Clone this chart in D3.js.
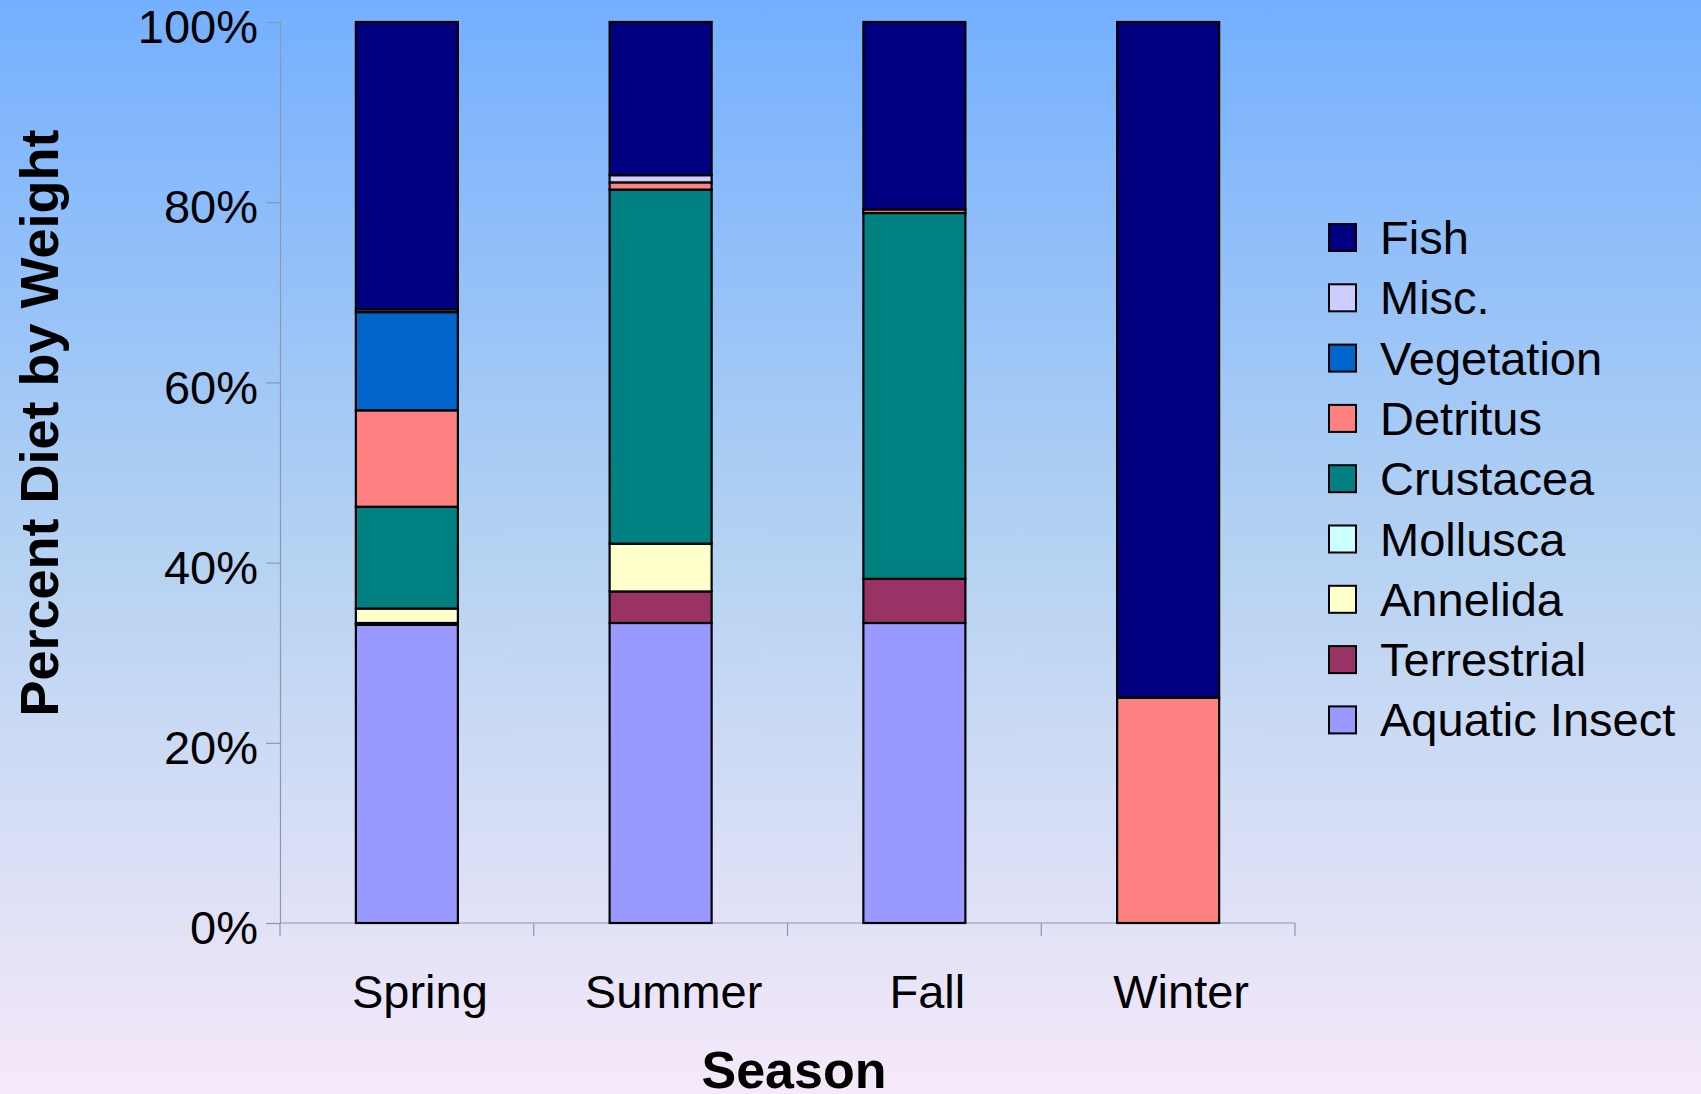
<!DOCTYPE html>
<html>
<head>
<meta charset="utf-8">
<script src="https://cdn.jsdelivr.net/npm/d3@7"></script>
<style>
  body { margin: 0; padding: 0; overflow: hidden; }
  svg { display: block; font-family: "Liberation Sans", Arial, sans-serif; }
</style>
</head>
<body>
<svg id="chart" width="1701" height="1094"></svg>
<script>
// seasons along the x axis
var seasons = ["Spring", "Summer", "Fall", "Winter"];

// diet groups, stacked from bottom to top
var groups = ["Aquatic Insect", "Terrestrial", "Annelida", "Mollusca", "Crustacea",
              "Detritus", "Vegetation", "Misc.", "Fish"];

// percent of diet by weight, one value per season
var aquaticInsect = [33.1, 33.3, 33.3, 0];
var terrestrial   = [0.2, 3.5, 4.9, 0];
var annelida      = [1.6, 5.3, 0, 0];
var mollusca      = [0, 0, 0, 0];
var crustacea     = [11.3, 39.3, 40.6, 0];
var detritus      = [10.7, 0.8, 0.4, 25.0];
var vegetation    = [10.9, 0, 0, 0];
var misc          = [0.3, 0.8, 0, 0];
var fish          = [31.9, 17.0, 20.8, 75.0];

var yTicks = [0, 20, 40, 60, 80, 100];

var colors = {
    "Fish": "#000080",
    "Misc.": "#CCCCFF",
    "Vegetation": "#0066CC",
    "Detritus": "#FF8080",
    "Crustacea": "#008080",
    "Mollusca": "#CCFFFF",
    "Annelida": "#FFFFCC",
    "Terrestrial": "#993366",
    "Aquatic Insect": "#9999FF"
};

var values = [aquaticInsect, terrestrial, annelida, mollusca, crustacea,
              detritus, vegetation, misc, fish];

// build rows for d3.stack
var rows = seasons.map(function (s, i) {
    var r = { season: s };
    groups.forEach(function (g, j) { r[g] = values[j][i]; });
    return r;
});

var svg = d3.select("#chart");

// background gradient
var defs = svg.append("defs");
var grad = defs.append("linearGradient")
    .attr("id", "bg")
    .attr("x1", 0).attr("y1", 0).attr("x2", 0).attr("y2", 1);
grad.append("stop").attr("offset", "0%").attr("stop-color", "#74AFFF");
grad.append("stop").attr("offset", "50%").attr("stop-color", "#B4D2F2");
grad.append("stop").attr("offset", "100%").attr("stop-color", "#F6E9F9");

svg.append("rect")
    .attr("width", 1701).attr("height", 1094)
    .attr("fill", "url(#bg)");

var plotLeft = 280, plotRight = 1295, plotTop = 22, plotBottom = 923;

var x = d3.scaleBand().domain(seasons).range([plotLeft, plotRight]).padding(0);
var y = d3.scaleLinear().domain([0, 100]).range([plotBottom, plotTop]);
var barW = x.bandwidth() * 0.402;

var axisColor = "#8A98B0";

// y axis
var yAxis = svg.append("g")
    .attr("transform", "translate(" + plotLeft + ",0)")
    .call(d3.axisLeft(y).tickValues(yTicks).tickSize(14).tickPadding(8)
          .tickFormat(function (d) { return d + "%"; }));
yAxis.select(".domain").attr("stroke", axisColor).attr("stroke-width", 1.2);
yAxis.selectAll(".tick line").attr("stroke", axisColor).attr("stroke-width", 1.2);
yAxis.selectAll(".tick text")
    .attr("font-size", 47)
    .attr("fill", "#000")
    .attr("x", -22)
    .attr("dy", "0.44em")
    .attr("font-family", "Liberation Sans, Arial, sans-serif");

// x axis
var xAxisG = svg.append("g").attr("transform", "translate(0," + plotBottom + ")");
xAxisG.append("line")
    .attr("x1", plotLeft).attr("x2", plotRight)
    .attr("stroke", axisColor).attr("stroke-width", 1.2);
var bounds = seasons.map(function (s) { return x(s); }).concat([plotRight]);
xAxisG.selectAll(".xt")
    .data(bounds)
    .enter().append("line")
    .attr("class", "xt")
    .attr("x1", function (d) { return d; })
    .attr("x2", function (d) { return d; })
    .attr("y1", 0).attr("y2", 13)
    .attr("stroke", axisColor).attr("stroke-width", 1.2);
xAxisG.selectAll(".xl")
    .data(seasons)
    .enter().append("text")
    .attr("class", "xl")
    .attr("x", function (d) { return x(d) + x.bandwidth() / 2 + 13; })
    .attr("y", 85)
    .attr("text-anchor", "middle")
    .attr("font-size", 47)
    .text(function (d) { return d; });

// stacked bars
var series = d3.stack().keys(groups)(rows);

svg.append("g").selectAll("g")
    .data(series)
    .enter().append("g")
    .attr("fill", function (d) { return colors[d.key]; })
    .selectAll("rect")
    .data(function (d) { return d.filter(function (p) { return p[1] - p[0] > 0; }); })
    .enter().append("rect")
    .attr("x", function (d) { return x(d.data.season) + (x.bandwidth() - barW) / 2; })
    .attr("y", function (d) { return y(d[1]); })
    .attr("width", barW)
    .attr("height", function (d) { return y(d[0]) - y(d[1]); })
    .attr("stroke", "#000")
    .attr("stroke-width", 2.2);

// axis titles
svg.append("text")
    .attr("transform", "translate(58,423) rotate(-90)")
    .attr("text-anchor", "middle")
    .attr("font-size", 54)
    .attr("font-weight", "bold")
    .text("Percent Diet by Weight");

svg.append("text")
    .attr("x", 794).attr("y", 1088)
    .attr("text-anchor", "middle")
    .attr("font-size", 52)
    .attr("font-weight", "bold")
    .text("Season");

// legend, Fish on top
var legendItems = groups.slice().reverse();
var legend = svg.append("g").attr("transform", "translate(1329,224)");
var li = legend.selectAll("g")
    .data(legendItems)
    .enter().append("g")
    .attr("transform", function (d, i) { return "translate(0," + (i * 60.3) + ")"; });
li.append("rect")
    .attr("width", 27).attr("height", 27)
    .attr("fill", function (d) { return colors[d]; })
    .attr("stroke", "#000").attr("stroke-width", 2);
li.append("text")
    .attr("x", 51).attr("y", 30)
    .attr("font-size", 47)
    .text(function (d) { return d; });
</script>
</body>
</html>
